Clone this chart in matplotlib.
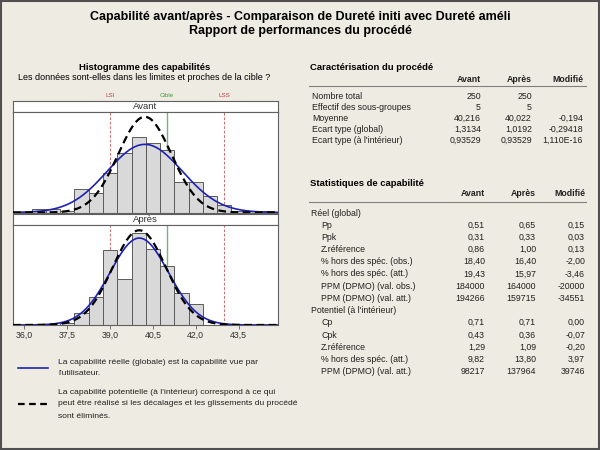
import numpy as np
import matplotlib
matplotlib.use("Agg")
import matplotlib.pyplot as plt
from matplotlib.lines import Line2D
from matplotlib.patches import Rectangle

plt.rcParams['font.family'] = ['Liberation Sans', 'DejaVu Sans']

# ---- data ----
N_TOTAL = 250
BIN_WIDTH = 0.5
LSI, CIBLE, LSS = 39.0, 41.0, 43.0

avant_centers = [36.5, 37.0, 37.5, 38.0, 38.5, 39.0, 39.5, 40.0, 40.5,
                 41.0, 41.5, 42.0, 42.5, 43.0, 43.5, 44.0, 44.5]
avant_counts = [2, 2, 1, 13, 11, 22, 33, 42, 39, 35, 17, 17, 9, 4, 1, 1, 1]
apres_centers = [37.5, 38.0, 38.5, 39.0, 39.5, 40.0, 40.5, 41.0, 41.5, 42.0]
apres_counts = [1, 7, 16, 42, 26, 52, 43, 33, 18, 12]

avant_mean, avant_sd_global, avant_sd_within = 40.216, 1.3134, 0.93529
apres_mean, apres_sd_global, apres_sd_within = 40.022, 1.0192, 0.93529

xticks = [36.0, 37.5, 39.0, 40.5, 42.0, 43.5]

carac_rows = [
    ("Nombre total", "250", "250", ""),
    ("Effectif des sous-groupes", "5", "5", ""),
    ("Moyenne", "40,216", "40,022", "-0,194"),
    ("Ecart type (global)", "1,3134", "1,0192", "-0,29418"),
    ("Ecart type (à l'intérieur)", "0,93529", "0,93529", "1,110E-16"),
]
stat_rows = [
    ("Réel (global)", None, None, None),
    ("Pp", "0,51", "0,65", "0,15"),
    ("Ppk", "0,31", "0,33", "0,03"),
    ("Z.référence", "0,86", "1,00", "0,13"),
    ("% hors des spéc. (obs.)", "18,40", "16,40", "-2,00"),
    ("% hors des spéc. (att.)", "19,43", "15,97", "-3,46"),
    ("PPM (DPMO) (val. obs.)", "184000", "164000", "-20000"),
    ("PPM (DPMO) (val. att.)", "194266", "159715", "-34551"),
    ("Potentiel (à l'intérieur)", None, None, None),
    ("Cp", "0,71", "0,71", "0,00"),
    ("Cpk", "0,43", "0,36", "-0,07"),
    ("Z.référence", "1,29", "1,09", "-0,20"),
    ("% hors des spéc. (att.)", "9,82", "13,80", "3,97"),
    ("PPM (DPMO) (val. att.)", "98217", "137964", "39746"),
]

BG = '#EEEBE2'
W, H = 600.0, 450.0


def fx(x):
    return x / W


def fy(y):
    return 1 - y / H


def txt(x, y, s, **kw):
    fig.text(fx(x), fy(y), s, va='center', **kw)


def normal_counts(x, mu, sd):
    return N_TOTAL * BIN_WIDTH / (sd * np.sqrt(2 * np.pi)) * np.exp(-0.5 * ((x - mu) / sd) ** 2)


fig = plt.figure(figsize=(6, 4.5), dpi=100, facecolor=BG)

# outer frame
fig.add_artist(Rectangle((0.001, 0.002), 0.997, 0.996, transform=fig.transFigure,
                         fill=False, edgecolor='#505050', linewidth=1.5))

txt(300, 17, "Capabilité avant/après - Comparaison de Dureté initi avec Dureté améli",
    ha='center', fontsize=9, fontweight='bold')
txt(300, 31, "Rapport de performances du procédé", ha='center', fontsize=9, fontweight='bold')

txt(145, 67, "Histogramme des capabilités", ha='center', fontsize=6.8, fontweight='bold')
txt(144, 78, "Les données sont-elles dans les limites et proches de la cible ?",
    ha='center', fontsize=6.5)

XL, XR = 13, 278
XMIN, XMAX = 35.6, 44.88
YMAX = 56

panels = [
    ("Avant", 101, 112, 212.5, avant_centers, avant_counts, avant_mean, avant_sd_global, avant_sd_within),
    ("Après", 214.5, 225.5, 325, apres_centers, apres_counts, apres_mean, apres_sd_global, apres_sd_within),
]
xs = np.linspace(XMIN, XMAX, 400)
for i, (name, st, pt, pb, centers, counts, mu, sdg, sdw) in enumerate(panels):
    sax = fig.add_axes([fx(XL), fy(pt), fx(XR - XL), (pt - st) / H])
    sax.set_facecolor('white')
    sax.set_xticks([])
    sax.set_yticks([])
    for s in sax.spines.values():
        s.set_color('#606060')
        s.set_linewidth(0.8)
    sax.text(0.5, 0.5, name, ha='center', va='center', fontsize=6.8,
             color='#303030', transform=sax.transAxes)

    ax = fig.add_axes([fx(XL), fy(pb), fx(XR - XL), (pb - pt) / H])
    ax.set_facecolor('white')
    for s in ax.spines.values():
        s.set_color('#606060')
        s.set_linewidth(0.8)
    ax.axvline(LSI, color='#C07878', linestyle=(0, (2.5, 1.5)), linewidth=0.8, zorder=1)
    ax.axvline(LSS, color='#C07878', linestyle=(0, (2.5, 1.5)), linewidth=0.8, zorder=1)
    ax.axvline(CIBLE, color='#78B478', linewidth=1.0, zorder=1)
    ax.bar(centers, counts, width=BIN_WIDTH, color='#D9D9D9', edgecolor='#5A5A5A',
           linewidth=0.7, zorder=2)
    ax.plot(xs, normal_counts(xs, mu, sdg), color='#1E22B4', linewidth=1.2, zorder=3)
    ax.plot(xs, normal_counts(xs, mu, sdw), color='black', linewidth=1.6,
            linestyle=(0, (3.5, 2)), zorder=4)
    ax.set_xlim(XMIN, XMAX)
    ax.set_ylim(0, YMAX)
    ax.set_yticks([])
    ax.set_xticks(xticks)
    ax.tick_params(axis='x', length=3, width=0.6, color='#606060', pad=1.5,
                   labelsize=6.3, labelcolor='#303030')
    if i == 0:
        ax.set_xticklabels([])
        ax.tick_params(axis='x', length=0)
    else:
        ax.set_xticklabels([f"{t:.1f}".replace('.', ',') for t in xticks])

# spec labels above top strip
for v, lab, col in [(LSI, "LSI", '#B84040'), (CIBLE, "Cible", '#3C9C3C'), (LSS, "LSS", '#B84040')]:
    xp = XL + (v - XMIN) / (XMAX - XMIN) * (XR - XL)
    txt(xp, 95.5, lab, ha='center', fontsize=4.5, color=col)

# legend at bottom left
fig.add_artist(Line2D([fx(18), fx(48)], [fy(367.5), fy(367.5)], color='#1E22B4', linewidth=1.2))
fig.add_artist(Line2D([fx(18), fx(48)], [fy(403.5), fy(403.5)], color='black', linewidth=1.6,
                      linestyle=(0, (3, 2))))
leg_lines = [
    (362.5, "La capabilité réelle (globale) est la capabilité vue par"),
    (373.5, "l'utilisateur."),
    (392.5, "La capabilité potentielle (à l'intérieur) correspond à ce qui"),
    (403.5, "peut être réalisé si les décalages et les glissements du procédé"),
    (416.5, "sont éliminés."),
]
for y, s in leg_lines:
    txt(58, y, s, ha='left', fontsize=6.1, color='#202020')


# right tables
def header(y_title, y_head, y_line, title, cols_x):
    txt(310, y_title, title, ha='left', fontsize=6.8, fontweight='bold')
    for x, s in zip(cols_x, ["Avant", "Après", "Modifié"]):
        txt(x, y_head, s, ha='right', fontsize=6.3, fontweight='bold', color='#202020')
    fig.add_artist(Line2D([fx(309), fx(586)], [fy(y_line), fy(y_line)],
                          color='#808080', linewidth=0.8))


cols1 = [481, 532, 583]
header(67, 79, 86, "Caractérisation du procédé", cols1)
for k, (lab, a, b, c) in enumerate(carac_rows):
    y = 96.5 + k * 11
    txt(312, y, lab, ha='left', fontsize=6.3, color='#202020')
    for x, s in zip(cols1, (a, b, c)):
        txt(x, y, s, ha='right', fontsize=6.3, color='#202020')

cols2 = [485, 536, 585]
header(184, 194, 202, "Statistiques de capabilité", cols2)
for k, (lab, a, b, c) in enumerate(stat_rows):
    y = 213 + k * 12.2
    if a is None:
        txt(311, y, lab, ha='left', fontsize=6.3, color='#202020')
        continue
    txt(321, y, lab, ha='left', fontsize=6.3, color='#202020')
    for x, s in zip(cols2, (a, b, c)):
        txt(x, y, s, ha='right', fontsize=6.3, color='#202020')

fig.savefig("out.png", dpi=100, facecolor=BG)
